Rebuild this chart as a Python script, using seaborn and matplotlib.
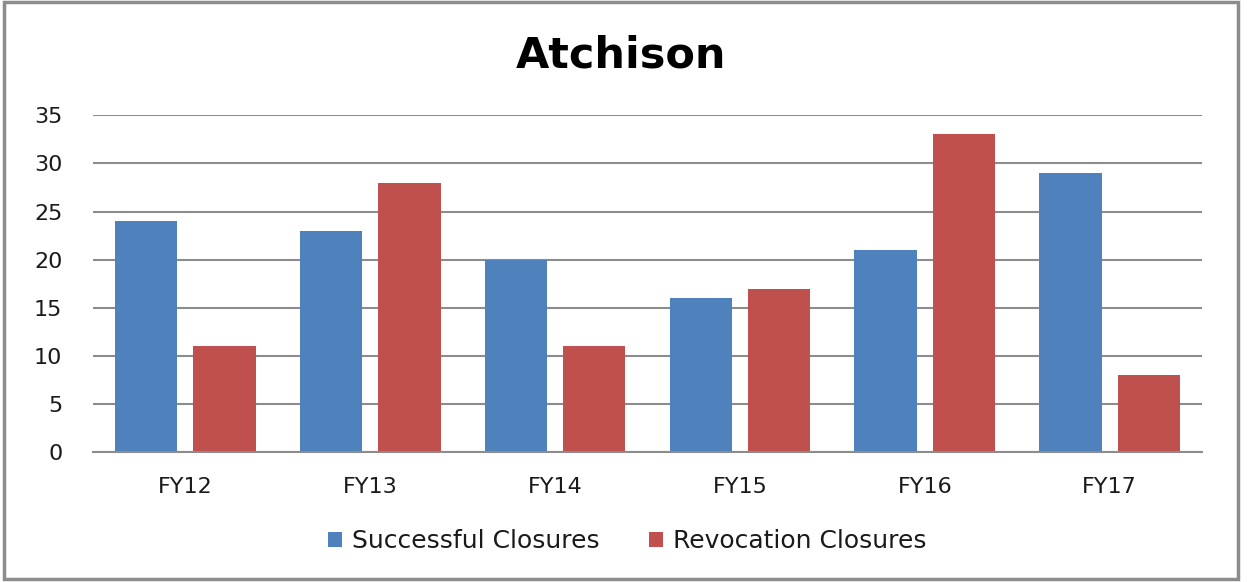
import matplotlib
matplotlib.use("Agg")
import matplotlib.pyplot as plt
import seaborn as sns
import pandas as pd
from matplotlib.patches import Rectangle

categories = ["FY12", "FY13", "FY14", "FY15", "FY16", "FY17"]
successful = [24, 23, 20, 16, 21, 29]
revocation = [11, 28, 11, 17, 33, 8]
series_names = ["Successful Closures", "Revocation Closures"]
colors = ["#4F81BD", "#C0504D"]

df = pd.DataFrame({
    "FY": categories * 2,
    "value": successful + revocation,
    "series": [series_names[0]] * len(categories) + [series_names[1]] * len(categories),
})

sns.set_style("white")
plt.rcParams["font.family"] = ["DejaVu Sans"]

fig = plt.figure(figsize=(12.47, 5.82), dpi=100)
ax = fig.add_axes([0.0745, 0.223, 0.8895, 0.579])

sns.barplot(data=df, x="FY", y="value", hue="series", palette=colors,
            width=0.848, gap=0.205, ax=ax, saturation=1, legend=True,
            edgecolor="none")

ax.set_ylim(0, 35)
ax.set_yticks(range(0, 36, 5))
ax.set_xlim(-0.5, len(categories) - 0.5)
ax.yaxis.grid(True, color="#8c8c8c", linewidth=1.5)
ax.set_axisbelow(True)
for s in ["left", "right", "top"]:
    ax.spines[s].set_visible(False)
ax.spines["bottom"].set_color("#8c8c8c")
ax.spines["bottom"].set_linewidth(1.5)
ax.tick_params(axis="both", length=0, labelsize=16, colors="#1a1a1a")
ax.tick_params(axis="y", pad=22)
ax.tick_params(axis="x", pad=18)
ax.set_xlabel("")
ax.set_ylabel("")

fig.text(0.498, 1 - 68 / 582, "Atchison", ha="center", va="baseline",
         fontsize=31, fontweight="bold", color="black")

handles, labels = ax.get_legend_handles_labels()
ax.legend_.remove()
fig.legend(handles, labels, loc="center", bbox_to_anchor=(0.503, 0.07), ncol=2,
           frameon=False, fontsize=18, handlelength=0.55, handleheight=0.55,
           columnspacing=2.0, handletextpad=0.4, labelcolor="#1a1a1a")

fig.patches.append(Rectangle((0.003, 0.006), 0.99, 0.99, transform=fig.transFigure,
                             fill=False, edgecolor="#8c8c8c", linewidth=2.5))

fig.savefig("out.png", dpi=100)
